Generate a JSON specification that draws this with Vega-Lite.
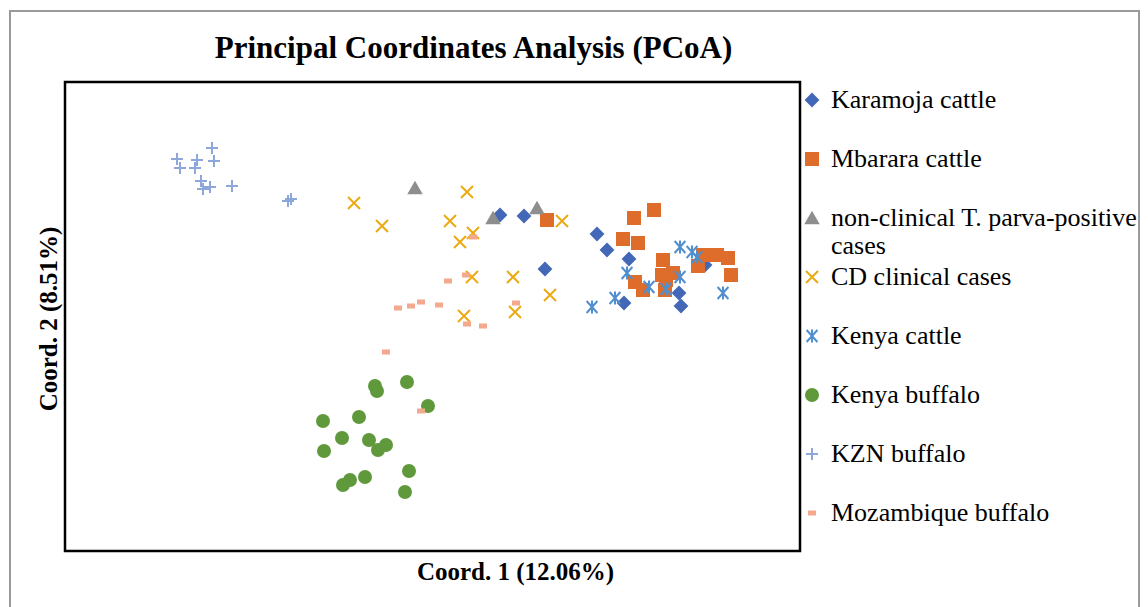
{
  "$schema": "https://vega.github.io/schema/vega-lite/v6.json",
  "width": 735,
  "height": 469,
  "autosize": {"type": "none"},
  "padding": {"left": 65, "top": 82, "right": 348, "bottom": 56},
  "background": "white",
  "title": {
    "text": "Principal Coordinates Analysis (PCoA)",
    "font": "Liberation Serif",
    "fontSize": 31,
    "fontWeight": "bold",
    "color": "#000",
    "anchor": "middle",
    "frame": "group",
    "dx": 41,
    "offset": -79,
    "baseline": "alphabetic"
  },
  "config": {
    "view": {"stroke": "#000", "strokeWidth": 2.5},
    "axis": {"labels": false, "ticks": false, "domain": false, "grid": false,
      "titleFont": "Liberation Serif", "titleFontSize": 25, "titleFontWeight": "bold", "titleColor": "#000"},
    "axisX": {"titleX": 450, "titleY": 28, "titleBaseline": "alphabetic", "titleAlign": "center"},
    "axisY": {"titleX": -9, "titleY": 236.5, "titleAngle": -90, "titleBaseline": "alphabetic", "titleAlign": "center"}
  },
  "datasets": {
    "points": [
      {"group": "Karamoja cattle", "x": 0.016, "y": 0.070},
      {"group": "Karamoja cattle", "x": 0.040, "y": 0.069},
      {"group": "Karamoja cattle", "x": 0.061, "y": 0.016},
      {"group": "Karamoja cattle", "x": 0.113, "y": 0.051},
      {"group": "Karamoja cattle", "x": 0.123, "y": 0.035},
      {"group": "Karamoja cattle", "x": 0.145, "y": 0.026},
      {"group": "Karamoja cattle", "x": 0.140, "y": -0.018},
      {"group": "Karamoja cattle", "x": 0.195, "y": -0.008},
      {"group": "Karamoja cattle", "x": 0.197, "y": -0.021},
      {"group": "Karamoja cattle", "x": 0.221, "y": 0.020},
      {"group": "Mbarara cattle", "x": 0.063, "y": 0.065},
      {"group": "Mbarara cattle", "x": 0.150, "y": 0.067},
      {"group": "Mbarara cattle", "x": 0.170, "y": 0.075},
      {"group": "Mbarara cattle", "x": 0.139, "y": 0.046},
      {"group": "Mbarara cattle", "x": 0.154, "y": 0.042},
      {"group": "Mbarara cattle", "x": 0.179, "y": 0.025},
      {"group": "Mbarara cattle", "x": 0.178, "y": 0.010},
      {"group": "Mbarara cattle", "x": 0.189, "y": 0.012},
      {"group": "Mbarara cattle", "x": 0.151, "y": 0.003},
      {"group": "Mbarara cattle", "x": 0.159, "y": -0.005},
      {"group": "Mbarara cattle", "x": 0.181, "y": -0.005},
      {"group": "Mbarara cattle", "x": 0.214, "y": 0.019},
      {"group": "Mbarara cattle", "x": 0.219, "y": 0.030},
      {"group": "Mbarara cattle", "x": 0.233, "y": 0.030},
      {"group": "Mbarara cattle", "x": 0.244, "y": 0.027},
      {"group": "Mbarara cattle", "x": 0.247, "y": 0.010},
      {"group": "Mbarara cattle", "x": 0.182, "y": 0.005},
      {"group": "non-clinical T. parva-positive cases", "x": -0.069, "y": 0.097},
      {"group": "non-clinical T. parva-positive cases", "x": 0.009, "y": 0.067},
      {"group": "non-clinical T. parva-positive cases", "x": 0.053, "y": 0.077},
      {"group": "CD clinical cases", "x": -0.130, "y": 0.082},
      {"group": "CD clinical cases", "x": -0.102, "y": 0.059},
      {"group": "CD clinical cases", "x": -0.017, "y": 0.093},
      {"group": "CD clinical cases", "x": -0.034, "y": 0.064},
      {"group": "CD clinical cases", "x": -0.011, "y": 0.052},
      {"group": "CD clinical cases", "x": -0.024, "y": 0.043},
      {"group": "CD clinical cases", "x": -0.012, "y": 0.008},
      {"group": "CD clinical cases", "x": -0.020, "y": -0.031},
      {"group": "CD clinical cases", "x": 0.078, "y": 0.064},
      {"group": "CD clinical cases", "x": 0.029, "y": 0.008},
      {"group": "CD clinical cases", "x": 0.066, "y": -0.010},
      {"group": "CD clinical cases", "x": 0.031, "y": -0.027},
      {"group": "Kenya cattle", "x": 0.196, "y": 0.038},
      {"group": "Kenya cattle", "x": 0.208, "y": 0.033},
      {"group": "Kenya cattle", "x": 0.213, "y": 0.028},
      {"group": "Kenya cattle", "x": 0.143, "y": 0.012},
      {"group": "Kenya cattle", "x": 0.196, "y": 0.008},
      {"group": "Kenya cattle", "x": 0.165, "y": -0.002},
      {"group": "Kenya cattle", "x": 0.182, "y": -0.004},
      {"group": "Kenya cattle", "x": 0.131, "y": -0.013},
      {"group": "Kenya cattle", "x": 0.239, "y": -0.008},
      {"group": "Kenya cattle", "x": 0.108, "y": -0.022},
      {"group": "Kenya buffalo", "x": -0.109, "y": -0.101},
      {"group": "Kenya buffalo", "x": -0.107, "y": -0.106},
      {"group": "Kenya buffalo", "x": -0.077, "y": -0.097},
      {"group": "Kenya buffalo", "x": -0.056, "y": -0.121},
      {"group": "Kenya buffalo", "x": -0.161, "y": -0.136},
      {"group": "Kenya buffalo", "x": -0.125, "y": -0.132},
      {"group": "Kenya buffalo", "x": -0.142, "y": -0.153},
      {"group": "Kenya buffalo", "x": -0.115, "y": -0.155},
      {"group": "Kenya buffalo", "x": -0.106, "y": -0.165},
      {"group": "Kenya buffalo", "x": -0.098, "y": -0.160},
      {"group": "Kenya buffalo", "x": -0.160, "y": -0.166},
      {"group": "Kenya buffalo", "x": -0.075, "y": -0.186},
      {"group": "Kenya buffalo", "x": -0.119, "y": -0.192},
      {"group": "Kenya buffalo", "x": -0.134, "y": -0.195},
      {"group": "Kenya buffalo", "x": -0.141, "y": -0.200},
      {"group": "Kenya buffalo", "x": -0.079, "y": -0.207},
      {"group": "KZN buffalo", "x": -0.272, "y": 0.137},
      {"group": "KZN buffalo", "x": -0.307, "y": 0.126},
      {"group": "KZN buffalo", "x": -0.304, "y": 0.117},
      {"group": "KZN buffalo", "x": -0.287, "y": 0.125},
      {"group": "KZN buffalo", "x": -0.289, "y": 0.117},
      {"group": "KZN buffalo", "x": -0.270, "y": 0.124},
      {"group": "KZN buffalo", "x": -0.283, "y": 0.104},
      {"group": "KZN buffalo", "x": -0.281, "y": 0.096},
      {"group": "KZN buffalo", "x": -0.274, "y": 0.098},
      {"group": "KZN buffalo", "x": -0.252, "y": 0.099},
      {"group": "KZN buffalo", "x": -0.193, "y": 0.086},
      {"group": "KZN buffalo", "x": -0.196, "y": 0.084},
      {"group": "Mozambique buffalo", "x": -0.036, "y": 0.004},
      {"group": "Mozambique buffalo", "x": -0.018, "y": 0.010},
      {"group": "Mozambique buffalo", "x": -0.086, "y": -0.023},
      {"group": "Mozambique buffalo", "x": -0.073, "y": -0.021},
      {"group": "Mozambique buffalo", "x": -0.063, "y": -0.017},
      {"group": "Mozambique buffalo", "x": -0.045, "y": -0.020},
      {"group": "Mozambique buffalo", "x": -0.017, "y": -0.039},
      {"group": "Mozambique buffalo", "x": -0.001, "y": -0.041},
      {"group": "Mozambique buffalo", "x": -0.098, "y": -0.067},
      {"group": "Mozambique buffalo", "x": 0.032, "y": -0.018},
      {"group": "Mozambique buffalo", "x": -0.063, "y": -0.126},
      {"group": "Mozambique buffalo", "x": -0.011, "y": 0.048}
    ],
    "frame": [
      {"x1": -0.474, "x2": 0.655, "y1": 0.274, "y2": -0.42}
    ]
  },
  "layer": [
    {
      "mark": {"type": "rule", "color": "#8c8c8c", "strokeWidth": 1.5},
      "encoding": {"x": {"datum": 0, "type": "quantitative", "title": "Coord. 1 (12.06%)"}}
    },
    {
      "mark": {"type": "rule", "color": "#8c8c8c", "strokeWidth": 1.5},
      "encoding": {"y": {"datum": 0, "type": "quantitative", "title": "Coord. 2 (8.51%)"}}
    },
    {
      "data": {"name": "points"},
      "mark": {"type": "point", "filled": true, "opacity": 1, "size": 144, "strokeWidth": 2},
      "encoding": {
        "x": {"field": "x", "type": "quantitative", "title": "Coord. 1 (12.06%)",
          "scale": {"domain": [-0.419, 0.316], "nice": false, "zero": false}},
        "y": {"field": "y", "type": "quantitative", "title": "Coord. 2 (8.51%)",
          "scale": {"domain": [-0.266, 0.203], "nice": false, "zero": false}},
        "fill": {"field": "group", "type": "nominal",
          "scale": {
            "domain": ["Karamoja cattle", "Mbarara cattle", "non-clinical T. parva-positive cases", "CD clinical cases", "Kenya cattle", "Kenya buffalo", "KZN buffalo", "Mozambique buffalo"],
            "range": ["#4468B8", "#DE6C2A", "#8E8E8E", "#EBAA12", "#4F8FCF", "#5F993C", "#8DA6DC", "#F3A98E"]
          },
          "legend": {
            "title": null, "orient": "none", "legendX": 734, "legendY": 5, "padding": 0,
            "labelFont": "Liberation Serif", "labelFontSize": 26, "labelColor": "#000", "labelLimit": 400,
            "labelOffset": 6, "rowPadding": 5, "gridAlign": "all", "symbolSize": 144, "symbolStrokeWidth": 2, "symbolOpacity": 1,
            "labelExpr": "datum.label == 'non-clinical T. parva-positive cases' ? ['non-clinical T. parva-positive', 'cases'] : datum.label"
          }
        },
        "stroke": {"field": "group", "type": "nominal",
          "scale": {
            "domain": ["Karamoja cattle", "Mbarara cattle", "non-clinical T. parva-positive cases", "CD clinical cases", "Kenya cattle", "Kenya buffalo", "KZN buffalo", "Mozambique buffalo"],
            "range": ["#4468B8", "#DE6C2A", "#8E8E8E", "#EBAA12", "#4F8FCF", "#5F993C", "#8DA6DC", "#F3A98E"]
          }
        },
        "shape": {"field": "group", "type": "nominal",
          "scale": {
            "domain": ["Karamoja cattle", "Mbarara cattle", "non-clinical T. parva-positive cases", "CD clinical cases", "Kenya cattle", "Kenya buffalo", "KZN buffalo", "Mozambique buffalo"],
            "range": ["diamond", "square", "triangle-up", "M-1,-1L1,1M-1,1L1,-1", "M-0.9,-1L0.9,1M-0.9,1L0.9,-1M0,-1.1L0,1.1", "circle", "M-1,0L1,0M0,-1L0,1", "M-0.5,-0.25L0.5,-0.25L0.5,0.25L-0.5,0.25Z"]
          }
        }
      }
    },
    {
      "data": {"name": "frame"},
      "mark": {"type": "rect", "filled": false, "stroke": "#9a9a9a", "strokeWidth": 2, "clip": false},
      "encoding": {
        "x": {"field": "x1", "type": "quantitative", "title": "Coord. 1 (12.06%)"},
        "x2": {"field": "x2"},
        "y": {"field": "y1", "type": "quantitative", "title": "Coord. 2 (8.51%)"},
        "y2": {"field": "y2"}
      }
    }
  ]
}
